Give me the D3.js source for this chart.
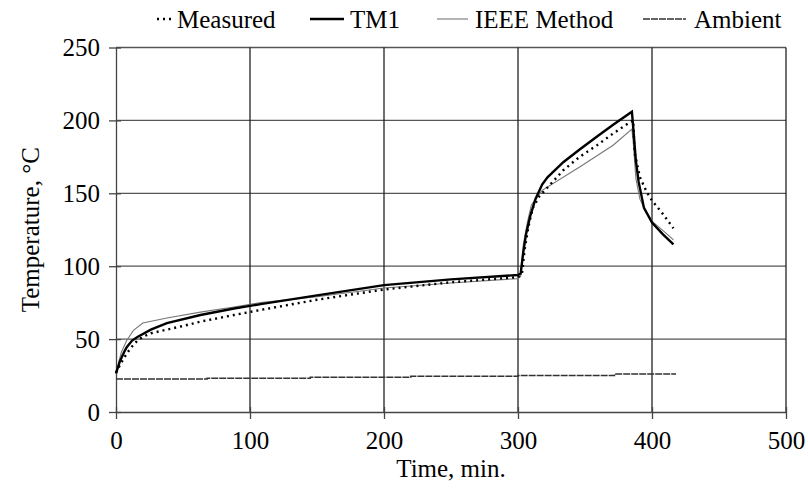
<!DOCTYPE html>
<html>
<head>
<meta charset="utf-8">
<script src="https://cdn.jsdelivr.net/npm/d3@7"></script>
<style>
  body { margin: 0; background: #fff; }
  text { font-family: "Liberation Serif", "Times New Roman", serif; fill: #000; }
</style>
</head>
<body>
<svg id="chart" width="808" height="495"></svg>
<script>
// values (time in min, temperature in °C)
const measured = [
  [0, 27], [4, 34], [8, 40], [12, 45], [16, 49], [20, 51.5], [26, 54], [38, 56.5], [50, 59],
  [63, 62], [88, 66.5], [108, 70], [150, 77], [200, 84], [250, 89], [300, 92.5], [303, 95],
  [305, 112], [308, 128], [311, 140], [316, 148], [322, 154], [334, 166], [346, 175],
  [359, 183], [371, 191], [384, 199], [386, 200], [387, 178], [391, 161], [396, 151],
  [400, 145], [408, 136], [416, 126]
]
const tm1 = [
  [0, 26.5], [3, 35], [6, 41], [8, 44.5], [12, 49], [16, 51.5], [26, 56.5], [38, 61],
  [63, 66.5], [88, 71], [108, 74], [150, 80], [200, 87], [250, 91], [300, 94], [302, 95],
  [304, 110], [306, 122], [309, 134], [313, 146], [318, 156], [322, 161], [334, 171.5],
  [346, 180], [359, 189], [371, 197], [385, 206], [386, 195], [388, 172], [390, 158],
  [394, 140], [400, 130], [408, 122], [416, 115]
]
const ieee = [
  [0, 26], [2, 34], [4, 41], [8, 49], [13, 56], [20, 61], [38, 64.5], [63, 68.5],
  [88, 72], [108, 75], [150, 79], [200, 85], [250, 88.5], [300, 91.5], [302, 93],
  [304, 115], [307, 130], [310, 142], [318, 152], [346, 168], [371, 183], [385, 194],
  [386, 185], [388, 160], [391, 146], [395, 138], [401, 130], [410, 123], [416, 118]
]
const ambient = [
  [0, 22.7], [68, 22.7], [68, 23.2], [145, 23.2], [145, 23.8], [220, 23.8], [220, 24.5],
  [300, 24.5], [300, 25], [372, 25], [372, 26], [418, 26]
]
const xTicks = [0, 100, 200, 300, 400, 500]
const yTicks = [0, 50, 100, 150, 200, 250]
const legendNames = ["Measured", "TM1", "IEEE Method", "Ambient"]

const margin = { top: 47.5, right: 22, bottom: 83, left: 116 }
const svg = d3.select("#chart")
const width = 808 - margin.left - margin.right
const height = 495 - margin.top - margin.bottom
const fontSize = "25px"

const x = d3.scaleLinear().domain([0, 500]).range([0, width])
const y = d3.scaleLinear().domain([0, 250]).range([height, 0])

const g = svg.append("g").attr("transform", `translate(${margin.left},${margin.top})`)

// grid
g.append("g").selectAll("line").data(yTicks.slice(1)).join("line")
  .attr("x1", 0).attr("x2", width)
  .attr("y1", d => y(d)).attr("y2", d => y(d))
  .attr("stroke", "#555").attr("stroke-width", 1.3)
g.append("g").selectAll("line").data(xTicks.slice(1)).join("line")
  .attr("y1", 0).attr("y2", height)
  .attr("x1", d => x(d)).attr("x2", d => x(d))
  .attr("stroke", "#222").attr("stroke-width", 1.3)

// axes
const xAxis = g.append("g").attr("transform", `translate(0,${height})`)
  .call(d3.axisBottom(x).tickValues(xTicks).tickSizeInner(7).tickSizeOuter(0).tickPadding(12))
const yAxis = g.append("g")
  .call(d3.axisLeft(y).tickValues(yTicks).tickSizeInner(7).tickSizeOuter(0).tickPadding(9))
;[xAxis, yAxis].forEach(a => {
  a.attr("font-family", null).attr("font-size", null)
  a.select(".domain").attr("stroke", "#444").attr("stroke-width", 1.3)
  a.selectAll(".tick line").attr("stroke", "#444").attr("stroke-width", 1.3)
  a.selectAll("text").style("font-size", fontSize).attr("fill", "#000")
})
// ticks cross the axis a little
xAxis.selectAll(".tick line").attr("y1", -5)
yAxis.selectAll(".tick line").attr("x1", 5)

const line = d3.line().x(d => x(d[0])).y(d => y(d[1]))

g.append("path").datum(ambient).attr("d", line)
  .attr("fill", "none").attr("stroke", "#333").attr("stroke-width", 1.5).attr("stroke-dasharray", "7,1")
g.append("path").datum(ieee).attr("d", line)
  .attr("fill", "none").attr("stroke", "#777").attr("stroke-width", 1.1)
g.append("path").datum(tm1).attr("d", line)
  .attr("fill", "none").attr("stroke", "#000").attr("stroke-width", 2.4)
g.append("path").datum(measured).attr("d", line)
  .attr("fill", "none").attr("stroke", "#000").attr("stroke-width", 2.4).attr("stroke-dasharray", "2,4")

// axis titles
svg.append("text").attr("x", margin.left + x(250)).attr("y", 477)
  .attr("text-anchor", "middle").style("font-size", fontSize).text("Time, min.")
svg.append("text").attr("transform", `translate(39,${margin.top + height / 2}) rotate(-90)`)
  .attr("text-anchor", "middle").style("font-size", fontSize).text("Temperature, °C")

// legend: [line start, line end, text start]
const legendPos = [[157, 172, 177], [310, 344, 350], [437, 468, 475], [643, 686, 694]]
const legendStyles = [
  { stroke: "#000", w: 2.4, dash: "2,4" },
  { stroke: "#000", w: 2.4, dash: null },
  { stroke: "#777", w: 1.1, dash: null },
  { stroke: "#333", w: 1.5, dash: "7,1" }
]
const leg = svg.append("g")
legendNames.forEach((name, i) => {
  const s = legendStyles[i]
  const p = legendPos[i]
  leg.append("line").attr("x1", p[0]).attr("x2", p[1]).attr("y1", 19).attr("y2", 19)
    .attr("stroke", s.stroke).attr("stroke-width", s.w).attr("stroke-dasharray", s.dash)
  leg.append("text").attr("x", p[2]).attr("y", 28).style("font-size", fontSize).text(name)
})
</script>
</body>
</html>
